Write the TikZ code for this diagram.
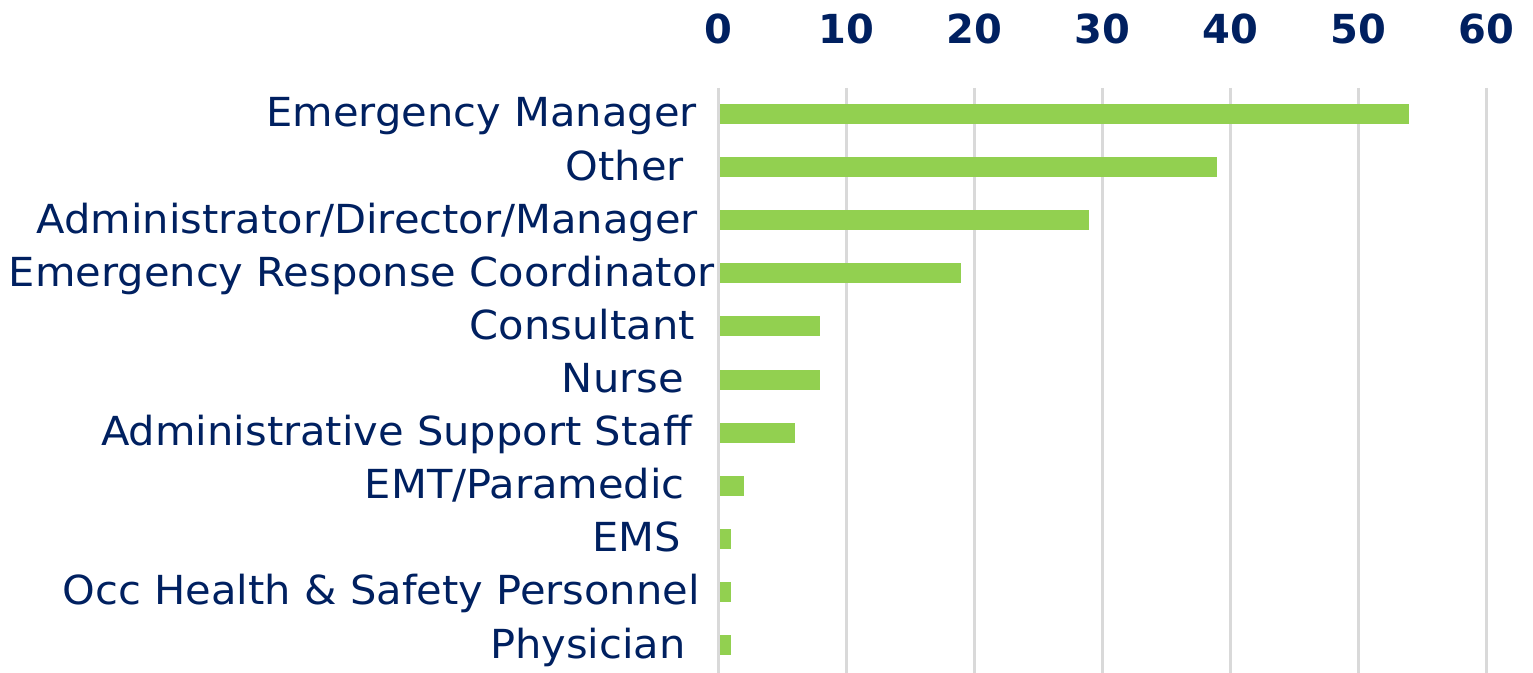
\documentclass[tikz,border=0pt]{standalone}
\usepackage{fontspec}
\setmainfont{DejaVu Sans}
\newfontfamily\catfont{DejaVu Sans}[FakeStretch=1.04]
\usetikzlibrary{positioning}
\definecolor{navy}{HTML}{002060}
\definecolor{barfill}{HTML}{92D050}
\definecolor{gridgray}{HTML}{D9D9D9}
\tikzstyle{gridline}=[draw=gridgray, line width=2.25pt]
\tikzstyle{hbar}=[fill=barfill]
\tikzstyle{catlabel}=[text=navy, font=\catfont\fontsize{30}{36}\selectfont, inner sep=0pt, anchor=base east]
\tikzstyle{ticklabel}=[catlabel, font=\fontsize{30}{36}\selectfont\bfseries, anchor=base]

\begin{document}
\begin{tikzpicture}[x=0.75pt,y=-0.75pt]
\useasboundingbox (0,0) rectangle (1533,673);
% grid lines and axis numbers
\foreach \v in {0,10,...,60} {
  \coordinate (top\v) at (718+12.8*\v, 88);
  \coordinate (bot\v) at (718+12.8*\v, 673);
  \draw [gridline] (top\v) -- (bot\v);
  \node (tick\v) [ticklabel] at (718+12.8*\v, 44) {\v};
}
% categories and bars
\foreach \i/\v/\r/\name in {0/54/697/{Emergency Manager}, 1/39/684/{Other}, 2/29/698/{Administrator/Director/Manager}, 3/19/715/{Emergency Response Coordinator}, 4/8/695/{Consultant}, 5/8/684/{Nurse}, 6/6/692/{Administrative Support Staff}, 7/2/685/{EMT/Paramedic}, 8/1/681/{EMS}, 9/1/700/{Occ Health \& Safety Personnel}, 10/1/686/{Physician}} {
  \node (cat\i) [catlabel] at (\r, 127+53.1*\i) {\name};
  \fill [hbar] (720, 104+53.1*\i) rectangle (718+12.8*\v, 124+53.1*\i);
}
\end{tikzpicture}
\end{document}
